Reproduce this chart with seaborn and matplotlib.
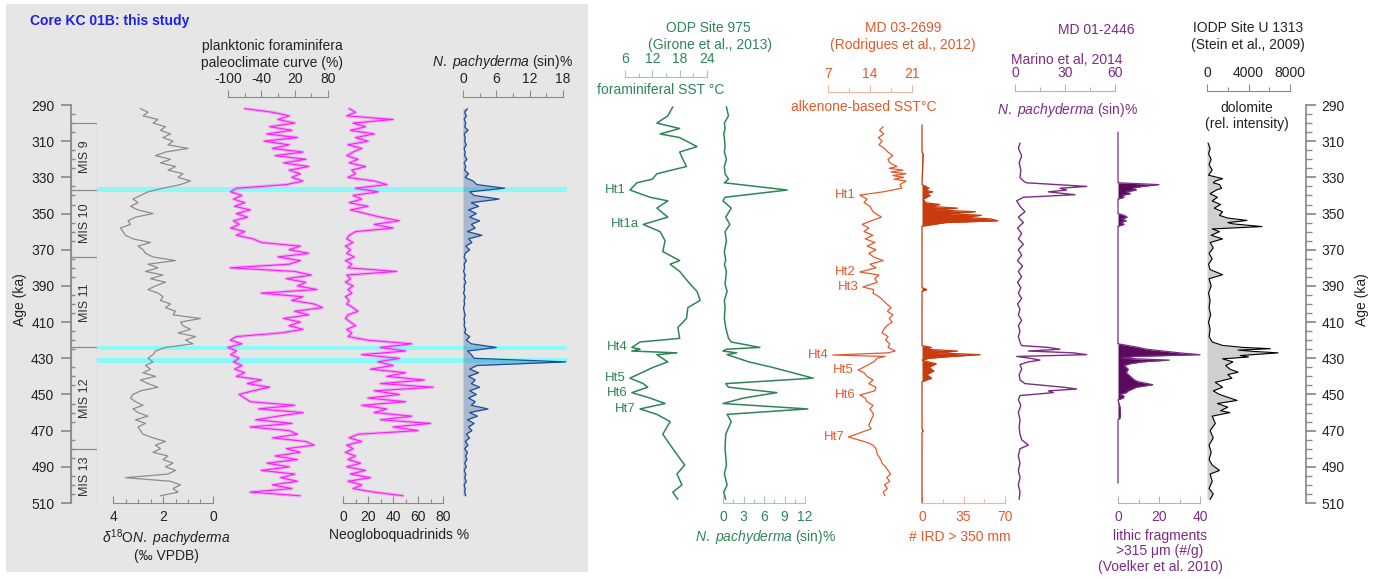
import numpy as np
import matplotlib
matplotlib.use("Agg")
import matplotlib.pyplot as plt
import seaborn as sns
from matplotlib.patches import Rectangle
from matplotlib.ticker import MultipleLocator

# ---- Core KC 01B (this study), shared sample ages ----
kc_age = [292, 294, 296, 298, 300, 302, 304, 306, 308, 310,
          312, 314, 316, 318, 320, 322, 324, 326, 328, 330,
          332, 334, 336, 338, 340, 342, 344, 346, 348, 350,
          352, 354, 356, 358, 360, 362, 364, 366, 368, 370,
          372, 374, 376, 378, 380, 382, 384, 386, 388, 390,
          392, 394, 396, 398, 400, 402, 404, 406, 408, 410,
          412, 414, 416, 418, 420, 422, 424, 426, 428, 430,
          432, 434, 436, 438, 440, 442, 444, 446, 448, 450,
          452, 454, 456, 458, 460, 462, 464, 466, 468, 470,
          472, 474, 476, 478, 480, 482, 484, 486, 488, 490,
          492, 494, 496, 498, 500, 502, 504, 506]
kc_d18o = [2.9, 2.6, 2.8, 2.2, 2.4, 1.9, 2.1, 1.7, 2.0, 1.6,
           1.8, 1.0, 1.9, 2.3, 1.7, 2.1, 1.5, 1.8, 1.2, 1.4,
           0.9, 1.3, 2.0, 2.6, 2.9, 3.2, 3.0, 3.3, 3.0, 2.4,
           3.1, 3.4, 3.3, 3.7, 3.6, 3.5, 3.2, 2.5, 3.0, 2.8,
           2.7, 2.4, 1.5, 2.6, 2.2, 2.7, 2.0, 2.5, 1.9, 2.3,
           2.6, 2.2, 2.0, 2.1, 1.7, 1.9, 1.5, 1.6, 0.5, 1.3,
           1.2, 0.9, 1.4, 0.7, 1.1, 0.8, 1.9, 2.3, 2.4, 2.6,
           2.4, 2.7, 2.5, 2.8, 2.3, 2.9, 2.6, 2.2, 2.9, 3.2,
           3.3, 3.1, 2.8, 3.2, 3.0, 2.6, 3.1, 2.7, 3.0, 2.9,
           2.8, 2.4, 1.9, 2.3, 2.1, 2.4, 1.8, 2.0, 1.6, 1.9,
           1.5, 1.8, 3.5, 1.7, 1.3, 1.6, 1.4, 2.1]
kc_paleo = [-70, -20, 10, -10, 20, -25, 15, -30, 25, -35,
            10, -20, 35, -15, 40, 0, 45, 10, 30, 15,
            35, 5, -85, -95, -75, -90, -70, -88, -60, -85,
            -65, -90, -80, -95, -70, -85, -55, -40, 30, 10,
            45, -10, 30, 10, -96, 20, 50, 5, 40, 25,
            60, -40, 35, 15, 55, 70, 20, 45, 0, 30,
            10, 35, -5, -85, -96, -75, -100, -85, -95, -80,
            -90, -75, -88, -70, -85, -40, -65, -25, -55, -80,
            -70, -60, 20, -45, 35, -10, -50, 15, -60, 10,
            25, -20, 40, 55, 5, 30, -15, 25, -30, 10,
            -40, 20, -5, 25, -20, 15, -60, 30]
kc_neoglo = [5, 10, 3, 40, 8, 18, 6, 25, 10, 20,
             4, 15, 8, 3, 12, 5, 18, 7, 10, 4,
             25, 35, 10, 28, 8, 15, 5, 20, 6, 18,
             30, 45, 25, 40, 10, 5, 3, 8, 2, 6,
             3, 9, 2, 7, 4, 43, 3, 6, 2, 8,
             4, 7, 2, 5, 3, 8, 12, 4, 2, 6,
             10, 3, 7, 4, 20, 55, 30, 50, 15, 45,
             28, 40, 22, 50, 35, 65, 30, 72, 25, 45,
             20, 50, 15, 35, 25, 55, 30, 70, 40, 60,
             12, 5, 15, 3, 8, 2, 10, 4, 14, 3,
             18, 6, 22, 4, 15, 8, 25, 48]
kc_npach = [0.8, 0.3, 0.6, 0.2, 0.5, 0.3, 0.9, 0.2, 0.4, 0.3,
            0.6, 0.2, 0.4, 0.3, 0.7, 0.2, 0.5, 0.3, 1.0, 0.4,
            1.8, 2.5, 7.5, 1.2, 2.0, 6.5, 1.5, 2.8, 1.0, 2.4,
            1.2, 3.0, 1.5, 2.2, 0.8, 3.4, 1.0, 1.6, 0.5, 1.2,
            0.4, 0.2, 0.6, 0.2, 0.3, 0.1, 0.4, 0.2, 0.5, 0.2,
            0.3, 0.1, 0.4, 0.2, 0.3, 0.1, 0.2, 0.4, 0.2, 0.3,
            0.2, 0.5, 0.3, 1.2, 0.6, 1.5, 6.0, 0.8, 1.5, 2.0,
            18.5, 2.5, 1.2, 2.8, 1.0, 2.2, 1.5, 3.0, 1.2, 2.4,
            1.0, 2.2, 1.5, 4.5, 1.2, 2.6, 0.8, 2.0, 1.0, 1.6,
            0.6, 1.2, 0.4, 0.9, 0.3, 0.8, 0.5, 0.7, 0.3, 0.6,
            0.2, 0.5, 0.3, 0.6, 0.2, 0.4, 0.3, 0.5]

mis_names = ["MIS 9", "MIS 10", "MIS 11", "MIS 12", "MIS 13"]
mis_top = [300, 337, 374, 424, 480]
mis_bottom = [337, 374, 424, 480, 510]
band_top = [335.3, 423.0, 430.0]
band_bottom = [338.0, 425.4, 432.8]

# ---- ODP Site 975 (Girone et al., 2013) ----
odp_age = [291, 296, 300, 303, 306, 308, 313, 316, 320, 324,
           328, 331, 333, 337, 341, 343, 347, 352, 356, 360,
           365, 371, 376, 378, 382, 389, 393, 398, 402, 408,
           413, 419, 421, 424, 425, 426, 427, 428, 432, 435,
           441, 444, 446, 449, 452, 455, 458, 461, 465, 472,
           480, 489, 494, 500, 504, 508]
odp_sst = [16.5, 15.4, 13.0, 18.0, 13.7, 18.0, 21.8, 18.0, 18.7, 19.5,
           13.0, 12.0, 8.6, 7.1, 11.5, 15.4, 13.0, 15.4, 10.0, 13.7,
           14.8, 14.3, 18.0, 15.9, 18.0, 20.3, 21.8, 22.5, 19.8, 19.5,
           17.6, 18.0, 9.3, 7.5, 9.3, 7.5, 17.4, 13.0, 15.4, 12.2,
           7.1, 10.0, 11.0, 7.5, 11.5, 14.8, 9.3, 13.0, 15.9, 14.3,
           16.5, 19.1, 17.4, 18.5, 16.5, 17.6]
odp_npach = [0.5, 0.8, 0.2, 0.3, 0.1, 0.2, 0.3, 0.2, 0.5, 0.2,
             0.3, 0.8, 0.2, 9.4, 0.3, 0.0, 1.2, 0.4, 1.0, 0.3,
             0.5, 0.2, 0.4, 0.2, 0.5, 0.3, 0.6, 0.2, 0.3, 0.2,
             0.4, 0.8, 1.2, 5.4, 0.5, 0.0, 2.0, 0.6, 3.8, 7.2,
             13.2, 0.4, 0.8, 7.9, 3.0, 0.0, 12.4, 0.6, 1.2, 0.4,
             0.3, 0.5, 0.2, 0.6, 0.1, 0.4]
odp_ht = ["Ht1", "Ht1a", "Ht4", "Ht5", "Ht6", "Ht7"]
odp_ht_age = [337, 356, 424, 441, 449, 458]

# ---- MD 03-2699 (Rodrigues et al., 2012) ----
md03_age = [302, 304, 306, 308, 310, 312, 314, 316, 318, 320,
            322, 324, 325, 326, 327, 328, 329, 330, 331, 332,
            334, 336, 338, 339.8, 342, 344, 346, 349, 352, 354,
            356, 358, 360, 362, 364, 366, 368, 370, 372, 374,
            376, 378, 380, 382.3, 384, 386, 388, 390.6, 392, 394,
            396, 398, 400, 402, 404, 406, 408, 410, 412, 414,
            416, 418, 420, 422, 424, 426, 427, 428.2, 429, 430,
            432, 434, 436.5, 438, 440, 442, 444, 446, 448, 450.3,
            452, 454, 456, 458, 461, 464, 467, 469, 471, 473.5,
            476.5, 478, 480, 483, 486, 488, 490, 492, 494, 496,
            498, 500, 502, 504, 506]
md03_sst = [16.2, 15.6, 16.3, 15.4, 16.0, 15.5, 16.4, 17.0, 17.8, 17.0,
            17.3, 18.5, 17.2, 19.5, 17.5, 20.0, 17.8, 19.6, 18.0, 20.0,
            19.0, 19.3, 16.2, 12.3, 13.5, 13.0, 14.0, 14.5, 15.9, 14.2,
            12.7, 13.8, 13.0, 14.5, 13.2, 14.8, 13.5, 15.0, 13.8, 14.6,
            16.2, 14.0, 15.0, 12.3, 15.5, 14.8, 15.2, 12.8, 14.6, 14.5,
            15.5, 16.2, 16.8, 17.5, 16.9, 17.8, 17.2, 17.7, 16.8, 16.3,
            16.0, 17.0, 16.6, 17.3, 17.0, 18.2, 17.0, 7.8, 16.5, 15.2,
            14.6, 13.5, 12.0, 13.0, 13.5, 14.5, 13.8, 15.0, 14.8, 12.3,
            13.2, 13.5, 14.5, 14.0, 14.6, 14.2, 13.8, 14.2, 12.5, 10.4,
            13.5, 14.5, 15.0, 15.2, 15.8, 16.0, 16.6, 17.0, 17.4, 16.8,
            17.3, 16.4, 16.9, 16.2, 16.5]
md03_ht = ["Ht1", "Ht2", "Ht3", "Ht4", "Ht5", "Ht6", "Ht7"]
md03_ht_age = [339.8, 382.3, 390.6, 428.2, 436.5, 450.3, 473.5]
ird_age = [301, 316, 317, 334, 336, 337, 338, 339, 340, 342,
           344, 345, 346, 347, 348, 349, 350, 351, 352, 353,
           354, 355, 357, 391, 392, 393, 423, 424, 425, 426,
           427, 428, 429, 430, 431, 432, 433, 435, 437, 439,
           441, 443, 469, 470, 471, 510]
ird_n = [0, 0, 1, 0, 6, 2, 9, 3, 7, 1,
         3, 15, 6, 30, 12, 45, 22, 50, 35, 58,
         64, 20, 0, 0, 4, 0, 0, 8, 3, 30,
         12, 49, 25, 6, 0, 5, 12, 6, 10, 4,
         8, 0, 0, 1, 0, 0]

# ---- MD 01-2446 ----
marino_age = [311, 314, 318, 322, 326, 330, 332, 333, 334, 335,
              336, 337, 338, 339.6, 341, 343, 346, 349, 352, 355,
              358, 361, 364, 367, 370, 373, 376, 379, 382, 385,
              388, 391, 394, 397, 400, 403, 406, 409, 412, 415,
              418, 421, 423, 424, 425, 426, 427, 428, 429, 430,
              431, 432, 433.5, 436, 439, 442, 444, 446, 447, 448,
              449, 450.6, 453, 456, 460, 464, 468, 472, 475, 478,
              480, 484, 488, 492, 496, 500, 504, 508]
marino_npach = [3, 2, 4, 2.5, 3.5, 3, 5, 7, 25, 43,
                27, 31, 20, 36, 5, 1, 3, 6, 2, 5,
                1.5, 4, 2, 5, 2, 4, 1.5, 4.5, 2, 4,
                1.5, 3.5, 2, 4, 1.5, 3, 2, 4, 2, 3,
                2, 3, 4, 20, 27, 8, 35, 43, 1, 9,
                15, 8, 3, 4, 2.5, 3, 6, 29, 37, 20,
                23, 3, 2, 3.5, 2, 3, 2.5, 3, 4, 8,
                3, 2, 3, 2, 3, 2, 3, 2.5]
lith_age = [305, 333, 334, 335, 336, 337, 338, 339, 340, 341,
            342, 350, 351, 352, 353, 354, 355, 356, 357, 422,
            423, 424, 425, 426, 427, 428, 429, 430, 431, 432,
            433, 434, 436, 438, 440, 442, 443, 444.6, 446, 447,
            448, 449, 450, 451, 452, 453, 457, 460, 463, 464,
            499]
lith_n = [0, 0, 20, 12, 7, 9, 4, 6, 2, 3,
          0, 0, 3, 4.5, 2, 4, 1.5, 3, 0, 0,
          5, 10, 14, 22, 30, 40, 8, 2, 25, 12,
          6, 3, 5, 4, 6, 8, 10, 17, 9, 7,
          5, 4, 1, 3, 2.5, 0, 1, 1.2, 1, 0,
          0]

# ---- IODP Site U1313 (Stein et al., 2009) ----
dol_age = [311, 314, 317, 320, 323, 326, 328.8, 330.7, 332, 333,
           334, 336, 337, 339, 341, 343, 345, 347, 349, 351,
           352.5, 353.8, 355, 355.7, 357.2, 358.5, 360, 362, 364, 366,
           369, 372, 375, 378, 381, 383.8, 386, 390, 394, 398,
           402, 406, 410, 414, 418, 421, 422.9, 424, 424.7, 425.5,
           426.2, 427, 428.5, 429.3, 430.3, 432, 434, 436, 437.7, 439,
           441, 443.3, 446, 448, 450, 453.3, 455, 457, 459, 460,
           462, 466, 470, 474, 478, 482, 486, 489, 492, 494,
           498, 502, 505, 508]
dol_int = [100, 300, 150, 400, 200, 500, 150, 1500, 800, 600,
           1200, 1400, 900, 300, 1000, 500, 1300, 700, 1500, 1200,
           2000, 3850, 2000, 2500, 5300, 500, 1200, 400, 1500, 300,
           600, 200, 500, 150, 300, 1500, 200, 400, 150, 300,
           200, 350, 150, 300, 200, 500, 1500, 3500, 6100, 3000,
           4450, 6850, 3200, 4000, 1500, 2500, 1800, 2200, 3000, 2000,
           2400, 800, 1500, 600, 1200, 2900, 1000, 2000, 1300, 2200,
           500, 800, 300, 600, 200, 400, 200, 500, 1200, 300,
           500, 200, 600, 300]

age_ticks = [290, 310, 330, 350, 370, 390, 410, 430, 450, 470, 490, 510]

# colours
GREEN, GREEN_AX = "#2e8654", "#9fcbb0"
ORANGE, ORANGE_AX, ORANGE_FILL = "#e4592c", "#f2b39d", "#c93a0c"
PURPLE, PURPLE_AX, PURPLE_FILL = "#7c2c84", "#c8a6cb", "#5c0a5e"
GREY_AX = "#8a8a8a"
MAGENTA = "#ff1aff"

sns.set_theme(style="white")
plt.rcParams["font.family"] = ["Liberation Sans", "DejaVu Sans"]
plt.rcParams["mathtext.fontset"] = "custom"
plt.rcParams["mathtext.rm"] = "Liberation Sans"
plt.rcParams["mathtext.it"] = "Liberation Sans:italic"

W, H = 1379, 579
fig = plt.figure(figsize=(W / 100, H / 100), dpi=100)
fig.patch.set_facecolor("white")

# grey panel behind core KC 01B
fig.add_artist(Rectangle((6 / W, 1 - 572 / H), 582 / W, 568 / H, transform=fig.transFigure,
                         facecolor="#e6e6e6", edgecolor="none", zorder=-5))


def px_axes(x0, x1):
    ax = fig.add_axes([x0 / W, 1 - 503 / H, (x1 - x0) / W, 398 / H])
    ax.set_facecolor("none")
    for s in ax.spines.values():
        s.set_visible(False)
    ax.set_ylim(510, 290)
    ax.set_yticks([])
    ax.set_xticks([])
    return ax


def track(x0, x1, lim, side, lift, ticks, labels, minor, col, axcol):
    ax = px_axes(x0, x1)
    ax.set_xlim(*lim)
    sp = ax.spines[side]
    sp.set_visible(True)
    sp.set_color(axcol)
    sp.set_linewidth(0.8)
    sp.set_position(("outward", lift * 0.72))
    ax.set_xticks(ticks, labels)
    ax.set_xticks(minor, minor=True)
    ax.xaxis.set_ticks_position(side)
    top = side == "top"
    ax.tick_params(axis="x", which="both", direction="out" if top else "in", color=axcol,
                   width=0.8, labelcolor=col, labelsize=10, pad=3 if top else 5,
                   top=top, bottom=not top, labeltop=top, labelbottom=not top)
    ax.tick_params(axis="x", which="major", length=5)
    ax.tick_params(axis="x", which="minor", length=3)
    return ax


def curve(ax, vals, ages, color, lw=1.0, **kw):
    sns.lineplot(x=vals, y=ages, orient="y", sort=False, estimator=None,
                 color=color, lw=lw, ax=ax, clip_on=False, **kw)
    ax.set_ylim(510, 290)


def text(x, y, s, color="#222222", size=10, **kw):
    fig.text(x / W, 1 - y / H, s, color=color, fontsize=size, ha=kw.pop("ha", "center"),
             va="center", **kw)


# cyan bands
ax_band = px_axes(97, 567)
for t, b in zip(band_top, band_bottom):
    ax_band.axhspan(t, b, color="#8cf9f9", lw=0)

# MIS column + left age axis
ax_mis = px_axes(71, 97)
ax_mis.set_xlim(0, 1)
ax_mis.barh(y=[(t + b) / 2 for t, b in zip(mis_top, mis_bottom)],
            width=1, height=[b - t for t, b in zip(mis_top, mis_bottom)], left=0,
            color="none", edgecolor=GREY_AX, lw=0.8)
for name, t, b in zip(mis_names, mis_top, mis_bottom):
    ax_mis.text(0.55, (t + b) / 2, name, rotation=90, ha="center", va="center",
                fontsize=9, color="#333333")
ax_mis.set_xlim(0, 1)
ax_mis.set_ylim(510, 290)
ax_mis.spines["left"].set_visible(True)
ax_mis.spines["left"].set_color(GREY_AX)
ax_mis.set_yticks(age_ticks)
ax_mis.yaxis.set_minor_locator(MultipleLocator(5))
ax_mis.tick_params(axis="y", which="both", left=True, color=GREY_AX, labelsize=10,
                   labelcolor="#222222", pad=5)
ax_mis.tick_params(axis="y", which="major", length=7, direction="out")
ax_mis.tick_params(axis="y", which="minor", length=3, direction="in")
text(20, 300, "Age (ka)", rotation=90)

# delta 18O
ax = track(113, 213, (4, 0), "bottom", 0, [4, 2, 0], ["4", "2", "0"],
           [3.5, 3, 2.5, 1.5, 1, 0.5], "#222222", GREY_AX)
curve(ax, kc_d18o, kc_age, "#8c8c8c", lw=0.9)
text(166, 538, r"$\delta^{18}$O" + r"$\mathit{N.\ pachyderma}$")
text(166, 556, "(‰ VPDB)")

# planktonic foraminifera paleoclimate curve
ax = track(228, 328, (-100, 80), "top", 8, [-100, -40, 20, 80], ["-100", "-40", "20", "80"],
           [-70, -10, 50], "#222222", GREY_AX)
curve(ax, kc_paleo, kc_age, MAGENTA, lw=2.4, alpha=0.25)
curve(ax, kc_paleo, kc_age, MAGENTA, lw=0.8)
text(272, 46, "planktonic foraminifera")
text(272, 63, "paleoclimate curve (%)")

# Neogloboquadrinids
ax = track(343, 443, (0, 80), "bottom", 0, [0, 20, 40, 60, 80], ["0", "20", "40", "60", "80"],
           [10, 30, 50, 70], "#222222", GREY_AX)
curve(ax, kc_neoglo, kc_age, MAGENTA, lw=2.4, alpha=0.25)
curve(ax, kc_neoglo, kc_age, MAGENTA, lw=0.8)
text(399, 535, "Neogloboquadrinids %")

# N. pachyderma KC 01B
ax = track(463, 563, (0, 18), "top", 8, [0, 6, 12, 18], ["0", "6", "12", "18"],
           [3, 9, 15], "#222222", GREY_AX)
ax.fill_betweenx(kc_age, 0, kc_npach, color="#1f4b9a", alpha=0.3, lw=0, clip_on=False)
curve(ax, kc_npach, kc_age, "#1f4b9a", lw=0.9)
text(503, 62, r"$\mathit{N.\ pachyderma}$ (sin)%")

text(30, 21, "Core KC 01B: this study", color="#1e1ef0", ha="left", fontweight="bold")

# ODP 975 SST
ax = track(625, 707, (6, 24), "top", 28, [6, 12, 18, 24], ["6", "12", "18", "24"],
           [9, 15, 21], GREEN, GREEN_AX)
curve(ax, odp_sst, odp_age, GREEN, lw=1.1)
for name, a in zip(odp_ht, odp_ht_age):
    ax.annotate(name, (np.interp(a, odp_age, odp_sst), a), xytext=(-3, 0),
                textcoords="offset points", ha="right", va="center", fontsize=9.5, color=GREEN)
text(708, 28, "ODP Site 975", color=GREEN)
text(710, 45, "(Girone et al., 2013)", color=GREEN)
text(661, 90, "foraminiferal SST °C", color=GREEN)

# ODP 975 N. pachyderma
ax = track(723, 805, (0, 12), "bottom", 0, [0, 3, 6, 9, 12], ["0", "3", "6", "9", "12"],
           [1.5, 4.5, 7.5, 10.5], GREEN, GREEN_AX)
curve(ax, odp_npach, odp_age, GREEN, lw=1.1)
text(766, 537, r"$\mathit{N.\ pachyderma}$ (sin)%", color=GREEN)

# MD 03-2699 alkenone SST
ax = track(828, 912, (7, 21), "top", 13, [7, 14, 21], ["7", "14", "21"],
           [10.5, 17.5], ORANGE, ORANGE_AX)
curve(ax, md03_sst, md03_age, ORANGE, lw=0.9)
for name, a in zip(md03_ht, md03_ht_age):
    ax.annotate(name, (np.interp(a, md03_age, md03_sst), a), xytext=(-3, 0),
                textcoords="offset points", ha="right", va="center", fontsize=9.5, color=ORANGE)
text(903, 28, "MD 03-2699", color=ORANGE)
text(903, 45, "(Rodrigues et al., 2012)", color=ORANGE)
text(864, 107, "alkenone-based SST°C", color=ORANGE)

# MD 03-2699 IRD
ax = track(922, 1005, (0, 70), "bottom", 0, [0, 35, 70], ["0", "35", "70"],
           [17.5, 52.5], ORANGE, ORANGE_AX)
ax.fill_betweenx(ird_age, 0, ird_n, color=ORANGE_FILL, lw=0, clip_on=False)
curve(ax, ird_n, ird_age, ORANGE_FILL, lw=0.9)
text(960, 537, "# IRD > 350 mm", color=ORANGE)

# MD 01-2446 N. pachyderma
ax = track(1015, 1115, (0, 60), "top", 14, [0, 30, 60], ["0", "30", "60"],
           [15, 45], PURPLE, PURPLE_AX)
curve(ax, marino_npach, marino_age, PURPLE, lw=1.0)
text(1096, 30, "MD 01-2446", color=PURPLE)
text(1067, 60, "Marino et al, 2014", color=PURPLE)
text(1068, 110, r"$\mathit{N.\ pachyderma}$ (sin)%", color=PURPLE)

# lithic fragments
ax = track(1118, 1200, (0, 40), "bottom", 0, [0, 20, 40], ["0", "20", "40"],
           [10, 30], PURPLE, PURPLE_AX)
ax.fill_betweenx(lith_age, 0, lith_n, color=PURPLE_FILL, lw=0, clip_on=False)
curve(ax, lith_n, lith_age, PURPLE, lw=0.9)
text(1160, 536, "lithic fragments", color=PURPLE)
text(1160, 551, ">315 μm (#/g)", color=PURPLE)
text(1160, 567, "(Voelker et al. 2010)", color=PURPLE)

# IODP U1313 dolomite
ax = track(1207, 1290, (0, 8000), "top", 14, [0, 4000, 8000], ["0", "4000", "8000"],
           [2000, 6000], "#222222", GREY_AX)
ax.fill_betweenx(dol_age, 0, dol_int, color="#cfcfcf", lw=0, clip_on=False)
curve(ax, dol_int, dol_age, "black", lw=0.8)
text(1248, 28, "IODP Site U 1313")
text(1248, 45, "(Stein et al., 2009)")
text(1247, 108, "dolomite")
text(1247, 124, "(rel. intensity)")

# right age axis
ax_r = px_axes(1290, 1306)
ax_r.spines["right"].set_visible(True)
ax_r.spines["right"].set_color(GREY_AX)
ax_r.yaxis.tick_right()
ax_r.set_yticks(age_ticks)
ax_r.yaxis.set_minor_locator(MultipleLocator(5))
ax_r.tick_params(axis="y", which="both", right=True, direction="out", color=GREY_AX,
                 labelsize=10, labelcolor="#222222", pad=4)
ax_r.tick_params(axis="y", which="major", length=7)
ax_r.tick_params(axis="y", which="minor", length=4)
text(1362, 300, "Age (ka)", rotation=90)

fig.savefig("out.png", dpi=100)
